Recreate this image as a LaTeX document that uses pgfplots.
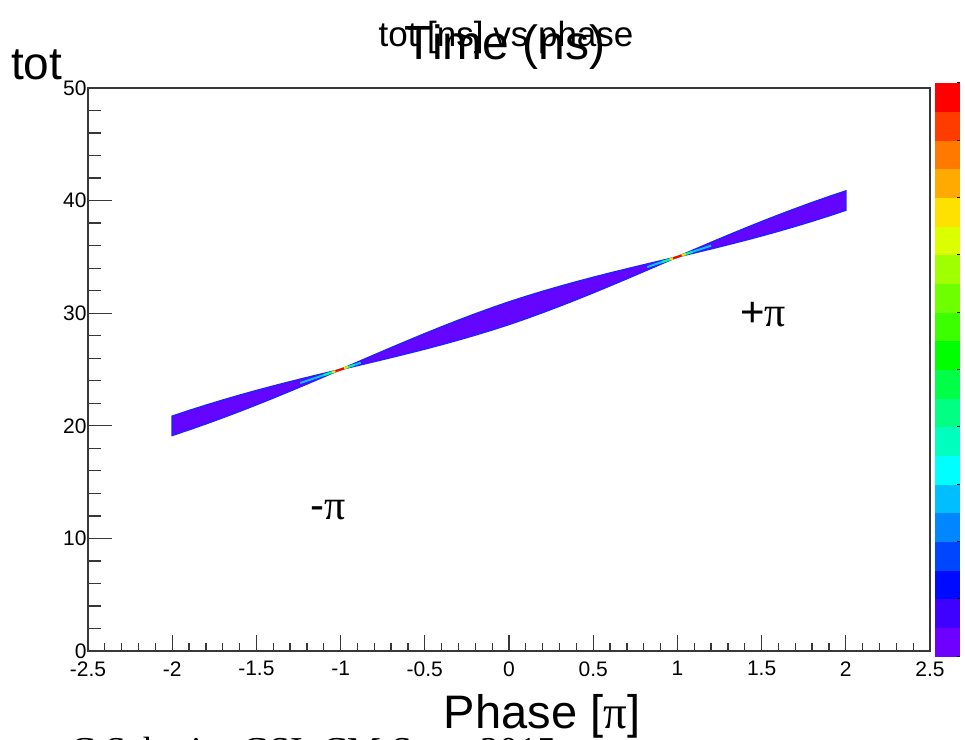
\documentclass[border=0pt]{standalone}
\usepackage{fontspec}
\setmainfont{Liberation Sans}
\newfontfamily\seriffont{Liberation Serif}
\usepackage{pgfplots}
\pgfplotsset{compat=1.18}
\definecolor{bandpurple}{RGB}{100,5,255}
\definecolor{bandblue}{RGB}{40,30,255}
\definecolor{axgray}{RGB}{55,55,55}

\begin{document}
\begin{tikzpicture}
\useasboundingbox (0,0) rectangle (965bp,740bp);
\clip (0,0) rectangle (965bp,740bp);
\begin{axis}[
  at={(88bp,89bp)}, anchor=south west,
  width=842bp, height=563bp, scale only axis,
  xmin=-2.5, xmax=2.5, ymin=0, ymax=50,
  xtick={-2.5,-2,-1.5,-1,-0.5,0,0.5,1,1.5,2,2.5},
  ytick={0,10,20,30,40,50},
  minor x tick num=4, minor y tick num=4,
  tick align=inside, xtick pos=bottom, ytick pos=left,
  major tick length=24bp, minor tick length=13bp,
  x tick style={/pgfplots/major tick length=16bp, /pgfplots/minor tick length=8bp},
  axis line style={axgray, line width=1.5bp},
  tick style={axgray, line width=1.3bp},
  /pgf/number format/assume math mode=true,
  tick label style={font=\fontsize{21bp}{21bp}\selectfont},
  x tick label style={yshift=-7bp},
  y tick label style={xshift=2bp},
  colormap={rootrb}{rgb255=(110,0,255) rgb255=(62,0,255) rgb255=(0,10,255) rgb255=(0,70,255) rgb255=(0,135,255) rgb255=(0,190,255) rgb255=(0,255,255) rgb255=(0,255,190) rgb255=(0,255,130) rgb255=(0,255,70) rgb255=(0,255,0) rgb255=(60,255,0) rgb255=(110,255,0) rgb255=(160,255,0) rgb255=(220,255,0) rgb255=(255,225,0) rgb255=(255,170,0) rgb255=(255,120,0) rgb255=(255,60,0) rgb255=(255,0,0)},
  colormap access=piecewise constant,
  point meta min=0, point meta max=20,
  colorbar,
  colorbar style={
    at={(1.0059,-0.0089)}, anchor=south west,
    width=25bp, height=573bp, scale only axis,
    axis line style={draw=none},
    ytick={0,2,...,20}, yticklabels={},
    ytick pos=right, tick align=inside,
    major tick length=3bp, minor tick length=0bp,
    tick style={black, line width=1bp},
  },
]
\addplot[fill=bandpurple, draw=bandblue, line width=1.6bp] coordinates {
(-2.0,20.850) (-1.9,21.347) (-1.8,21.823) (-1.7,22.277) (-1.6,22.712) (-1.5,23.128) (-1.4,23.526) (-1.3,23.910) (-1.2,24.281) (-1.1,24.643) (-1.0,25.000) (-0.9,25.646) (-0.8,26.290) (-0.7,26.930) (-0.6,27.561) (-0.5,28.181) (-0.4,28.785) (-0.3,29.371) (-0.2,29.937) (-0.1,30.480) (0.0,31.000) (0.1,31.480) (0.2,31.937) (0.3,32.371) (0.4,32.785) (0.5,33.181) (0.6,33.561) (0.7,33.930) (0.8,34.290) (0.9,34.646) (1.0,35.000) (1.1,35.643) (1.2,36.281) (1.3,36.910) (1.4,37.526) (1.5,38.128) (1.6,38.712) (1.7,39.277) (1.8,39.823) (1.9,40.347) (2.0,40.850)
(2.0,39.150) (1.9,38.653) (1.8,38.177) (1.7,37.723) (1.6,37.288) (1.5,36.872) (1.4,36.474) (1.3,36.090) (1.2,35.719) (1.1,35.357) (1.0,35.000) (0.9,34.354) (0.8,33.710) (0.7,33.070) (0.6,32.439) (0.5,31.819) (0.4,31.215) (0.3,30.629) (0.2,30.063) (0.1,29.520) (0.0,29.000) (-0.1,28.520) (-0.2,28.063) (-0.3,27.629) (-0.4,27.215) (-0.5,26.819) (-0.6,26.439) (-0.7,26.070) (-0.8,25.710) (-0.9,25.354) (-1.0,25.000) (-1.1,24.357) (-1.2,23.719) (-1.3,23.090) (-1.4,22.474) (-1.5,21.872) (-1.6,21.288) (-1.7,20.723) (-1.8,20.177) (-1.9,19.653) (-2.0,19.150)
} -- cycle;
% high-density colours near the crossings
\addplot[draw={rgb,255:red,0;green,200;blue,255}, line width=2bp] coordinates {(-1.24,23.80) (-0.88,25.60)};
\addplot[draw={rgb,255:red,0;green,255;blue,120}, line width=2bp] coordinates {(-1.10,24.50) (-0.92,25.40)};
\addplot[draw={rgb,255:red,255;green,220;blue,0}, line width=2bp] coordinates {(-1.05,24.75) (-0.955,25.225)};
\addplot[draw=red, line width=2bp] coordinates {(-1.03,24.85) (-0.98,25.10)};
\addplot[draw={rgb,255:red,0;green,200;blue,255}, line width=2bp] coordinates {(0.82,34.10) (1.20,36.00)};
\addplot[draw={rgb,255:red,0;green,255;blue,120}, line width=2bp] coordinates {(0.91,34.55) (1.09,35.45)};
\addplot[draw={rgb,255:red,255;green,220;blue,0}, line width=2bp] coordinates {(0.955,34.775) (1.05,35.25)};
\addplot[draw=red, line width=2bp] coordinates {(0.975,34.875) (1.025,35.125)};
\end{axis}
% titles and labels
\node[anchor=base, inner sep=0pt, font=\fontsize{35bp}{35bp}\selectfont] at (506bp,693bp) {tot [ns] vs phase};
\node[anchor=base, inner sep=0pt, font=\fontsize{48bp}{48bp}\selectfont] at (505bp,680bp) {Time (ns)};
\node[anchor=base west, inner sep=0pt, font=\fontsize{46bp}{46bp}\selectfont] at (11bp,660bp) {tot};
\node[anchor=base, inner sep=0pt, font=\fontsize{47bp}{47bp}\selectfont] at (542bp,12bp) {Phase [{\seriffont π}]};
\node[anchor=center, inner sep=0pt, font=\fontsize{42bp}{42bp}\selectfont] at (328bp,230bp) {-{\seriffont π}};
\node[anchor=center, inner sep=0pt, font=\fontsize{42bp}{42bp}\selectfont] at (763bp,425bp) {+{\seriffont π}};
\node[anchor=base west, inner sep=0pt, font=\seriffont\fontsize{38bp}{38bp}\selectfont] at (70bp,-23bp) {C.Schmitt, GSI, CM Sept. 2015};
\end{tikzpicture}
\end{document}
